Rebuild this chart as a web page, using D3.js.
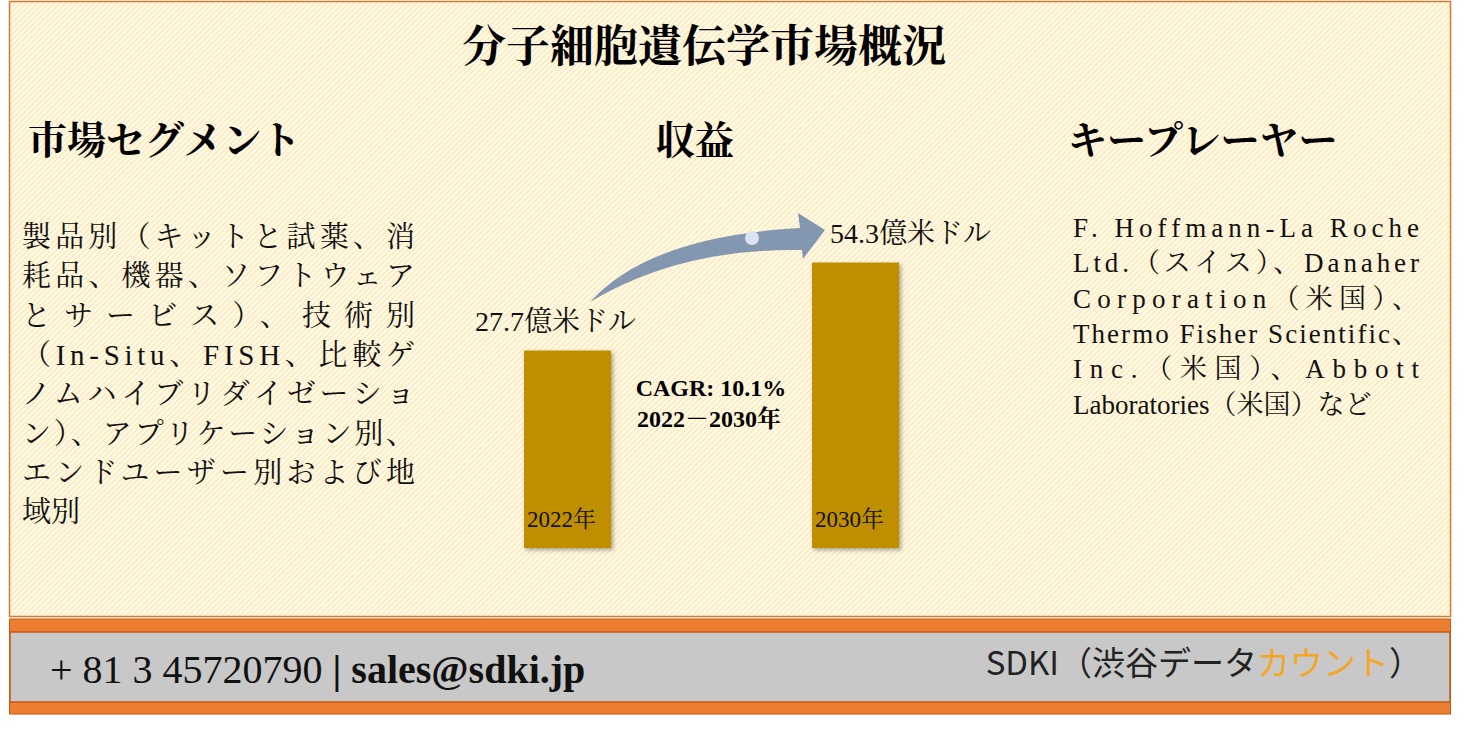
<!DOCTYPE html>
<html><head><meta charset="utf-8">
<script src="https://cdn.jsdelivr.net/npm/d3@7"></script>
<style>body{margin:0;background:#fff}svg{display:block}</style>
</head><body><svg id="c" width="1467" height="729"></svg>
<script>
const years = ["2022年","2030年"];
const values = [27.7, 54.3];
const valueLabels = ["27.7億米ドル","54.3億米ドル"];
const title = "分子細胞遺伝学市場概況";
const headers = ["市場セグメント","収益","キープレーヤー"];
const segLines = ["製品別（キットと試薬、消","耗品、機器、ソフトウェア","とサービス）、技術別","（In-Situ、FISH、比較ゲ","ノムハイブリダイゼーショ","ン）、アプリケーション別、","エンドユーザー別および地","域別"];
const playerLines = ["F. Hoffmann-La Roche","Ltd.（スイス）、Danaher","Corporation（米国）、","Thermo Fisher Scientific、","Inc.（米国）、Abbott","Laboratories（米国）など"];
const cagr = ["CAGR: 10.1%","2022－2030年"];

const F = "'Liberation Serif','Noto Serif CJK JP','Noto Sans CJK JP',serif";
const svg = d3.select("#c");
const defs = svg.append("defs");
const p = defs.append("pattern").attr("id","st").attr("width",4).attr("height",4)
 .attr("patternUnits","userSpaceOnUse").attr("patternTransform","rotate(45)");
p.append("rect").attr("width",4).attr("height",4).attr("fill","#fffaea");
p.append("rect").attr("width",1.3).attr("height",4).attr("fill","#fde6b0");
const sh = defs.append("filter").attr("id","sh").attr("x","-20%").attr("y","-20%").attr("width","150%").attr("height","150%");
sh.append("feDropShadow").attr("dx",2).attr("dy",2).attr("stdDeviation",2).attr("flood-opacity",0.35);

svg.append("rect").attr("x",9.5).attr("y",1.5).attr("width",1441).attr("height",615).attr("fill","url(#st)").attr("stroke","#d9782f").attr("stroke-width",1.5);
svg.append("rect").attr("x",9.5).attr("y",619).attr("width",1441).attr("height",95).attr("fill","#ed7d31").attr("stroke","#c55a11");
svg.append("rect").attr("x",10).attr("y",632).attr("width",1440).attr("height",70).attr("fill","#c8c8c8").attr("stroke","#c55a11").attr("stroke-width",1.5);
const ft = svg.append("text").attr("x",50).attr("y",683).attr("font-family",F).attr("font-size",40).attr("fill","#111");
ft.append("tspan").text("+ 81 3 45720790 ");
ft.append("tspan").attr("font-weight","bold").text("| sales@sdki.jp");
const ft2 = svg.append("text").attr("x",1422).attr("y",675).attr("text-anchor","end").attr("font-family","'Noto Sans CJK JP',sans-serif").attr("font-size",33).attr("fill","#222");
ft2.append("tspan").text("SDKI（渋谷データ");
ft2.append("tspan").attr("fill","#f5a623").text("カウント");
ft2.append("tspan").text("）");

svg.append("text").attr("x",704).attr("y",62).attr("text-anchor","middle").attr("font-family",F).attr("font-weight","bold").attr("font-size",44).text(title);
[[28,"start"],[695,"middle"],[1068,"start"]].forEach((d,i)=>{
  svg.append("text").attr("x",d[0]).attr("y",154).attr("text-anchor",d[1]).attr("font-family",F).attr("font-weight","bold").attr("font-size",39).text(headers[i]);
});
function block(lines,x,y0,lh,w,fs){
  lines.forEach((l,i)=>{
    const t = svg.append("text").attr("x",x).attr("y",y0+i*lh).attr("font-family",F).attr("font-size",fs).attr("fill","#111").text(l);
    if(i<lines.length-1) t.attr("textLength",w).attr("lengthAdjust","spacing");
  });
}
block(segLines,22,247,39.3,393,29);
block(playerLines,1073,237,35.3,346,27);

const x = d3.scaleBand().domain(years).range([524,899]).paddingInner(0.698).paddingOuter(0);
const y = d3.scaleLinear().domain([-32,60]).range([548,243.7]);
svg.selectAll(".bar").data(values).join("rect").attr("x",(d,i)=>x(years[i])).attr("width",x.bandwidth())
 .attr("y",d=>y(d)).attr("height",d=>y(-32)-y(d)).attr("fill","#bf8f00").attr("filter","url(#sh)");
svg.selectAll(".yl").data(years).join("text").attr("x",d=>x(d)+x.bandwidth()/2-6).attr("y",527).attr("text-anchor","middle")
 .attr("font-family",F).attr("font-size",23).attr("fill","#111").text(d=>d);
svg.selectAll(".vl").data(values).join("text").attr("x",(d,i)=>x(years[i])+x.bandwidth()/2+(i?55:-12)).attr("y",d=>y(d)-20)
 .attr("text-anchor","middle").attr("font-family",F).attr("font-size",28).attr("fill","#111").text((d,i)=>valueLabels[i]);
svg.append("text").attr("x",711).attr("y",396).attr("text-anchor","middle").attr("font-family",F).attr("font-weight","bold").attr("font-size",24).text(cagr[0]);
svg.append("text").attr("x",709).attr("y",427).attr("text-anchor","middle").attr("font-family",F).attr("font-weight","bold").attr("font-size",24).text(cagr[1]);
svg.append("path").attr("d","M590,302 Q650,236 800,228 L798,213 L825,230 L803,259 L802,250 Q680,248 590,302 Z").attr("fill","#8497b0");
svg.append("circle").attr("cx",752).attr("cy",238).attr("r",7).attr("fill","#dae3f3");
</script></body></html>
